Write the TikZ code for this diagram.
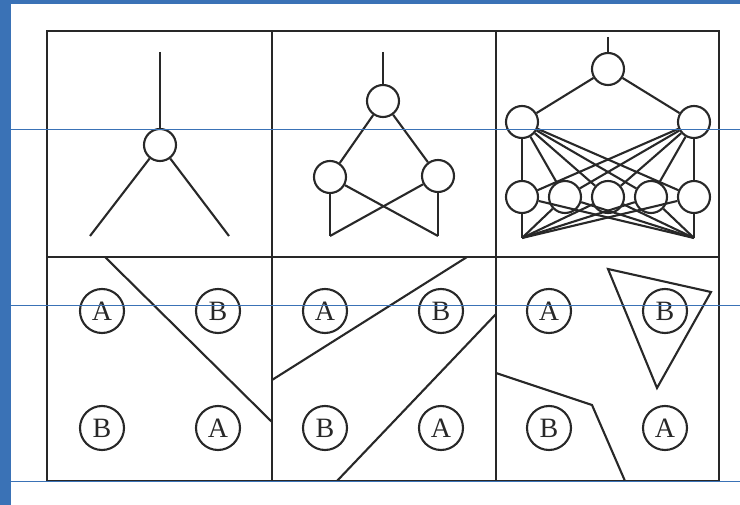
\documentclass[tikz,border=0pt]{standalone}
\usepackage{tikz}
\usepackage{fontspec}
\setmainfont{Liberation Serif}
\usetikzlibrary{positioning}
\definecolor{frameblue}{RGB}{58,114,182}
\definecolor{inkgray}{RGB}{40,40,40}

\begin{document}
\begin{tikzpicture}[x=1pt, y=-1pt, line width=2.1pt, draw=inkgray,
    neuron/.style={circle, draw, minimum size=32pt, inner sep=0pt},
    token/.style={circle, draw, minimum size=44pt, inner sep=0pt, text=inkgray, font=\fontsize{28}{28}\selectfont}]
    \useasboundingbox (0,0) rectangle (740,505);
    \fill[frameblue] (0,0) rectangle (740,4);
    \fill[frameblue] (0,0) rectangle (11,505);
    \draw (47,31) rectangle (719,481);
    \draw (272,31) -- (272,481);
    \draw (496,31) -- (496,481);
    \draw (47,257) -- (719,257);

    \node[neuron] (p) at (160,145) {};
    \coordinate (pin) at (160,52);
    \coordinate (pl) at (90,236);
    \coordinate (pr) at (229,236);
    \draw (pin) -- (p);
    \draw (p) -- (pl);
    \draw (p) -- (pr);

    \node[neuron] (h) at (383,101) {};
    \node[neuron] (hl) at (330,177) {};
    \node[neuron] (hr) at (438,176) {};
    \coordinate (hin) at (383,52);
    \coordinate (hbl) at (330,236);
    \coordinate (hbr) at (438,236);
    \draw (hin) -- (h);
    \draw (h) -- (hl);
    \draw (h) -- (hr);
    \foreach \a in {hl,hr}
        \foreach \b in {hbl,hbr}
            \draw (\a) -- (\b);

    \node[neuron] (t) at (608,69) {};
    \node[neuron] (tl) at (522,122) {};
    \node[neuron] (tr) at (694,122) {};
    \foreach \i/\x in {1/522,2/565,3/608,4/651,5/694}
        \node[neuron] (b\i) at (\x,197) {};
    \coordinate (tin) at (608,37);
    \coordinate (tbl) at (522,238);
    \coordinate (tbr) at (694,238);
    \draw (tin) -- (t);
    \draw (t) -- (tl);
    \draw (t) -- (tr);
    \foreach \i in {1,...,5} {
        \draw (tl) -- (b\i);
        \draw (tr) -- (b\i);
        \draw (b\i) -- (tbl);
        \draw (b\i) -- (tbr);
    }

    \foreach \c/\dx in {1/0,2/223,3/447} {
        \node[token] (ul\c) at (102+\dx,311) {A};
        \node[token] (ur\c) at (218+\dx,311) {B};
        \node[token] (dl\c) at (102+\dx,428) {B};
        \node[token] (dr\c) at (218+\dx,428) {A};
    }

    \coordinate (s1) at (105,257);
    \coordinate (s2) at (272,422);
    \draw (s1) -- (s2);

    \coordinate (m1) at (272,380);
    \coordinate (m2) at (467,257);
    \coordinate (m3) at (337,481);
    \coordinate (m4) at (496,314);
    \draw (m1) -- (m2);
    \draw (m3) -- (m4);

    \coordinate (k1) at (608,269);
    \coordinate (k2) at (711,292);
    \coordinate (k3) at (657,388);
    \draw (k1) -- (k2) -- (k3) -- cycle;
    \coordinate (q1) at (496,373);
    \coordinate (q2) at (592,405);
    \coordinate (q3) at (625,481);
    \draw (q1) -- (q2) -- (q3);

    \foreach \y in {129,305,481}
        \draw[frameblue, line width=0.8pt] (11,\y) -- (740,\y);
\end{tikzpicture}
\end{document}
